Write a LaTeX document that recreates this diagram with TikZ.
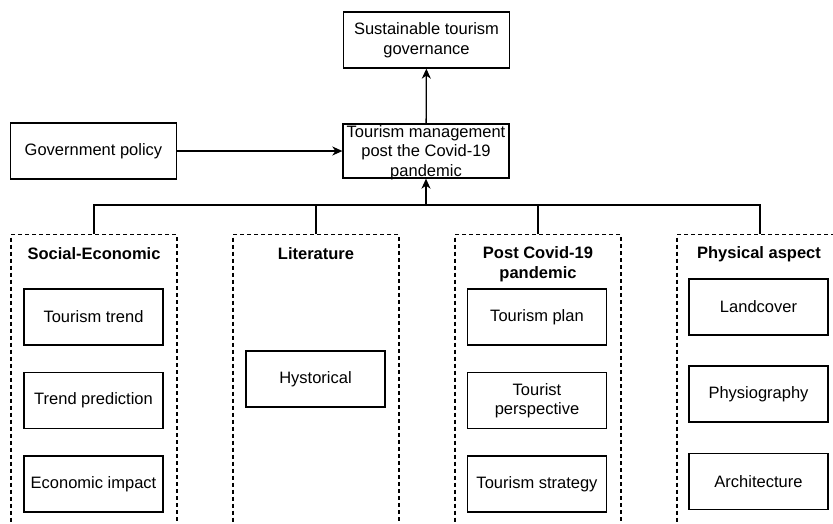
\documentclass[tikz,border=0pt]{standalone}
\usepackage{fontspec}
\setmainfont{Liberation Sans}
\usetikzlibrary{arrows.meta, positioning}

\begin{document}
\begin{tikzpicture}[x=1pt, y=-1pt, line width=1.3pt,
  font=\fontsize{16.5}{19.5}\selectfont,
  box/.style={draw, minimum width=139pt, minimum height=56pt, align=center, inner sep=2pt},
  mainbox/.style={draw, minimum width=166pt, minimum height=56pt, align=center, inner sep=2pt},
  group/.style={draw, dash pattern=on 4pt off 3pt, minimum width=166pt, minimum height=330pt, anchor=north},
  grouptitle/.style={font=\fontsize{16.5}{19.5}\selectfont\bfseries, align=center},
  arr/.style={-{Stealth[length=10pt, width=9pt, inset=3pt]}}]
  \clip (0,0) rectangle (833,523);

  % top part
  \node[mainbox] (gov)  at (93.5, 151) {Government policy};
  \node[mainbox, minimum height=54pt] (mgmt) at (426, 151) {};
  \node[align=center] (mgmttext) at ([yshift=-1.5pt]mgmt.center) {Tourism management\\post the Covid-19\\pandemic};
  \node[mainbox] (goal) at (426.5, 40) {Sustainable tourism\\governance};

  \draw[arr] (gov) -- (mgmt);
  \draw[arr] (mgmt) -- (goal);

  % groups
  \node[group] (socg)  at (94,  234) {};
  \node[group] (litg)  at (316, 234) {};
  \node[group] (postg) at (538, 234) {};
  \node[group] (physg) at (760, 234) {};

  \node[grouptitle] (soct)  at (94,  254) {Social-Economic};
  \node[grouptitle] (litt)  at (316, 254) {Literature};
  \node[grouptitle] (postt) at (538, 264) {Post Covid-19\\pandemic};
  \node[grouptitle] (physt) at (759, 254) {Physical aspect};

  % bus
  \coordinate (bus) at (426, 205);
  \draw (socg.north) |- (bus) -| (physg.north);
  \draw (litg.north) -- (litg.north |- bus);
  \draw (postg.north) -- (postg.north |- bus);
  \draw[arr] (bus) -- (mgmt.south);

  % social-economic
  \node[box] (trend)   at (93.5, 317)   {Tourism trend};
  \node[box] (predict) at (93.5, 400.5) {Trend prediction};
  \node[box] (econ)    at (93.5, 484)   {Economic impact};

  % literature
  \node[box] (hist) at (315.5, 379) {Hystorical};

  % post covid-19
  \node[box] (plan)     at (537, 317)   {Tourism plan};
  \node[box] (persp)    at (537, 400.5) {Tourist\\perspective};
  \node[box] (strategy) at (537, 484)   {Tourism strategy};

  % physical aspect
  \node[box] (land)  at (758.5, 307)   {Landcover};
  \node[box] (physio) at (758.5, 394)  {Physiography};
  \node[box] (arch)  at (758.5, 481.5) {Architecture};
\end{tikzpicture}
\end{document}
